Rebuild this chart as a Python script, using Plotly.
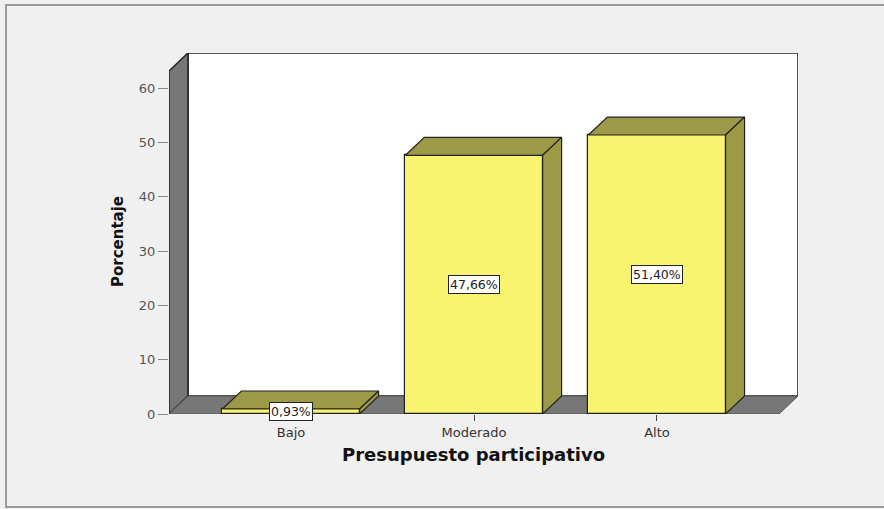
import plotly.graph_objects as go

categories = ["Bajo", "Moderado", "Alto"]
percentages = [0.93, 47.66, 51.40]
labels = ["0,93%", "47,66%", "51,40%"]
y_ticks = [0, 10, 20, 30, 40, 50, 60]

W, H = 884, 509
ML, MR, MT, MB = 169, 86, 53, 95
X_LO, X_HI = -0.667, 2.667
DX = 0.1037          # depth offset in category units
DY = 3.31            # depth offset in value units
WALL_H = 63.2
BAR_HALF = 0.375

FRONT = "#f8f470"
SHADE = "#9c9a47"
GREY = "#777777"

xs = list(range(len(categories)))
fig = go.Figure()

# front faces of the bars
fig.add_trace(go.Bar(
    x=xs, y=percentages, width=2 * BAR_HALF,
    marker=dict(color=FRONT, line=dict(color="#222222", width=1.2)),
    showlegend=False, hoverinfo="skip"))

# top and side faces, computed from the data
for c, v in zip(xs, percentages):
    l, r = c - BAR_HALF, c + BAR_HALF
    fig.add_trace(go.Scatter(
        x=[l, r, r + DX, l + DX, l], y=[v, v, v + DY, v + DY, v],
        mode="lines", fill="toself", fillcolor=SHADE,
        line=dict(color="#222222", width=1.2), showlegend=False, hoverinfo="skip"))
    fig.add_trace(go.Scatter(
        x=[r, r + DX, r + DX, r, r], y=[0, DY, v + DY, v, 0],
        mode="lines", fill="toself", fillcolor=SHADE,
        line=dict(color="#222222", width=1.2), showlegend=False, hoverinfo="skip"))

# value labels
for c, v, t in zip(xs, percentages, labels):
    fig.add_annotation(x=c, y=v / 2, text=t, showarrow=False,
                       xanchor="center", yanchor="middle",
                       font=dict(family="DejaVu Sans", size=12.5, color="#222222"),
                       bgcolor="white", bordercolor="#222222", borderwidth=1, borderpad=1)

shapes = []
# back wall
shapes.append(dict(type="rect", xref="x", yref="y", layer="below",
                   x0=X_LO + DX, x1=X_HI + DX, y0=DY, y1=WALL_H + DY,
                   fillcolor="white", line=dict(color="#222222", width=1.5)))
# left wall
shapes.append(dict(type="path", xref="x", yref="y", layer="below",
                   path=f"M {X_LO},0 L {X_LO + DX},{DY} L {X_LO + DX},{WALL_H + DY} L {X_LO},{WALL_H} Z",
                   fillcolor=GREY, line=dict(color="#222222", width=1.5)))
# floor
shapes.append(dict(type="path", xref="x", yref="y", layer="below",
                   path=f"M {X_LO},0 L {X_HI},0 L {X_HI + DX},{DY} L {X_LO + DX},{DY} Z",
                   fillcolor=GREY, line=dict(color="#555555", width=1)))
# outer frame
pw = W - ML - MR
ph = H - MT - MB
shapes.append(dict(type="rect", xref="paper", yref="paper", layer="below",
                   x0=(6 - ML) / pw, x1=(W + 10 - ML) / pw,
                   y0=(H - MB - 507) / ph, y1=(H - MB - 5) / ph,
                   fillcolor="rgba(0,0,0,0)", line=dict(color="#9a9a9a", width=2)))

fig.update_layout(
    width=W, height=H,
    margin=dict(l=ML, r=MR, t=MT, b=MB),
    paper_bgcolor="#f0f0f0", plot_bgcolor="rgba(0,0,0,0)",
    shapes=shapes,
    xaxis=dict(range=[X_LO, X_HI + DX], tickvals=xs, ticktext=categories,
               showgrid=False, zeroline=False, showline=False,
               ticks="outside", ticklen=6, tickcolor="#444444",
               tickfont=dict(family="DejaVu Sans", size=13, color="#333333")),
    yaxis=dict(range=[0, WALL_H + DY], tickvals=y_ticks,
               showgrid=False, zeroline=False, showline=False,
               ticks="outside", ticklen=10, tickcolor="#888888",
               tickfont=dict(family="DejaVu Sans", size=13, color="#555555")),
    bargap=0,
)

fig.add_annotation(xref="paper", yref="paper", x=(473 - ML) / pw, y=(H - MB - 454) / ph,
                   xanchor="center", yanchor="middle",
                   text="<b>Presupuesto participativo</b>", showarrow=False,
                   font=dict(family="DejaVu Sans", size=18, color="#111111"))
fig.add_annotation(xref="paper", yref="paper", x=(118 - ML) / pw, y=(H - MB - 242) / ph,
                   xanchor="center", yanchor="middle",
                   text="<b>Porcentaje</b>", showarrow=False, textangle=-90,
                   font=dict(family="DejaVu Sans", size=15, color="#111111"))

fig.write_html("out.html", config={"displayModeBar": False},
               post_script="document.body.style.margin='0';document.body.style.padding='0';")
